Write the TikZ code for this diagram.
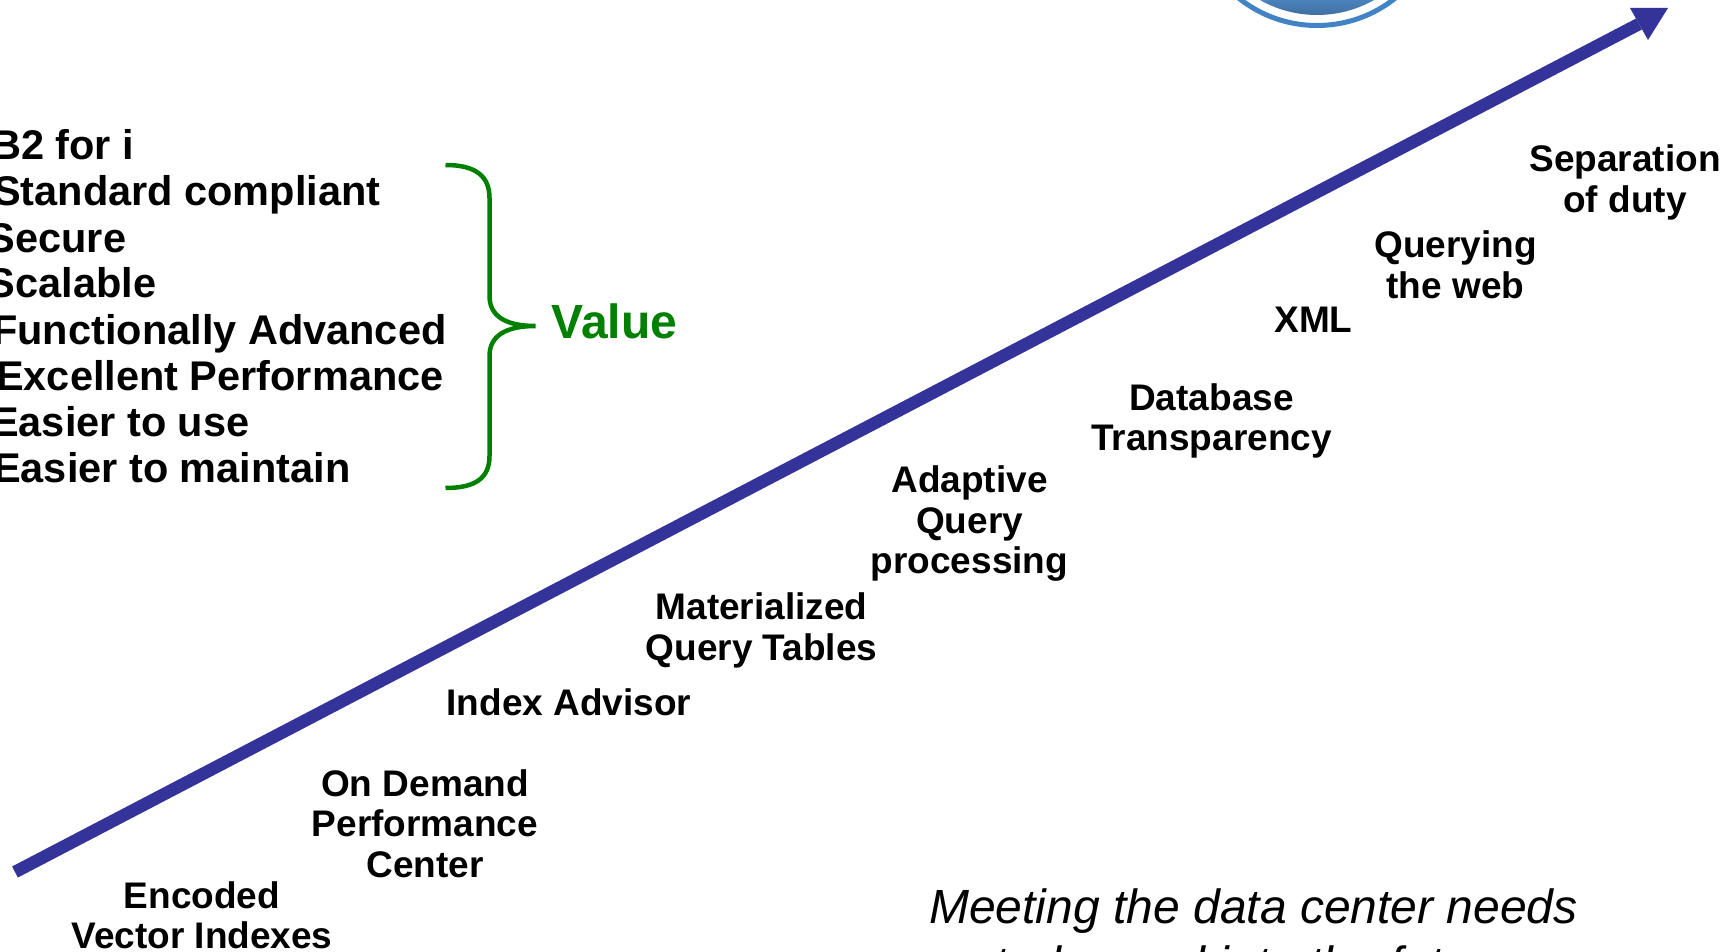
\documentclass[tikz,border=0pt]{standalone}
\usepackage{fontspec}
\setmainfont{Liberation Sans}
\definecolor{arrowblue}{HTML}{333399}
\definecolor{bracegreen}{HTML}{008000}
\definecolor{ringblue}{HTML}{4283C6}
\definecolor{globetop}{HTML}{4A82BC}
\definecolor{globebot}{HTML}{3F6E9E}
\tikzset{
  item/.style={align=center,inner sep=0pt,font=\fontsize{37}{40.5}\selectfont\bfseries,text=black},
  listitem/.style={anchor=base west,inner sep=0pt,font=\fontsize{41.5}{46}\selectfont\bfseries,text=black},
  slogan/.style={anchor=base,inner sep=0pt,font=\fontsize{48}{57}\selectfont\itshape,text=black},
  bracepath/.style={draw=bracegreen,line width=4.5pt}
}
\begin{document}
\begin{tikzpicture}[x=1pt,y=-1pt]
\useasboundingbox (0,0) rectangle (1735,952);
\clip (0,0) rectangle (1735,952);
% globe cut off by the top edge
\draw[ringblue,line width=5pt] (1317,-100) circle (125.5);
\begin{scope}
  \clip (1317,-101) circle (116);
  \shade[top color=globetop,bottom color=globebot] (1180,0) rectangle (1460,16);
\end{scope}
% rising arrow
\coordinate (start) at (15,872);
\coordinate (neck) at (1639,24);
\coordinate (tip) at (1668,8);
\coordinate (headA) at (1630,8);
\coordinate (headB) at (1648,40);
\draw[arrowblue,line width=12.5pt] (start) -- (neck);
\fill[arrowblue] (tip) -- (headA) -- (headB) -- cycle;
% milestones
\node[item] (sep) at (1625,182.5) {Separation\\of duty};
\node[item] (web) at (1455.5,265) {Querying\\the web};
\node[item] (xml) at (1313.5,320) {XML};
\node[item] (dbt) at (1211.5,421) {Database\\Transparency};
\node[item] (aqp) at (969.5,524) {Adaptive\\Query\\processing};
\node[item] (mqt) at (761.5,630.5) {Materialized\\Query Tables};
\node[item] (adv) at (569,702.5) {Index Advisor};
\node[item] (odp) at (425,823.5) {On Demand\\Performance\\Center};
\node[item] (evi) at (202,915.5) {Encoded\\Vector Indexes};
% value list
\node[listitem] (l1) at (-9,160) {B2 for i};
\node[listitem] (l2) at (-7,206) {Standard compliant};
\node[listitem] (l3) at (-12.5,252) {Secure};
\node[listitem] (l4) at (-12.5,298) {Scalable};
\node[listitem] (l5) at (-8,344) {Functionally Advanced};
\node[listitem] (l6) at (-4,390) {Excellent Performance};
\node[listitem] (l7) at (-9,436) {Easier to use};
\node[listitem] (l8) at (-7,482) {Easier to maintain};
% brace
\draw[bracepath] (445.5,165) .. controls (475.5,165) and (489.5,176) .. (489.5,198)
  -- (489.5,296) .. controls (489.5,316) and (505.5,326) .. (535.5,326)
  .. controls (505.5,326) and (489.5,336) .. (489.5,356)
  -- (489.5,456) .. controls (489.5,478) and (475.5,488) .. (445.5,488);
\node[anchor=base,inner sep=0pt,font=\fontsize{48}{50}\selectfont\bfseries,text=bracegreen] (val) at (614.5,338) {Value};
% slogan
\node[slogan] (s1) at (1253.5,923) {Meeting the data center needs};
\node[slogan] (s2) at (1253.5,980) {today and into the future};
\end{tikzpicture}
\end{document}
